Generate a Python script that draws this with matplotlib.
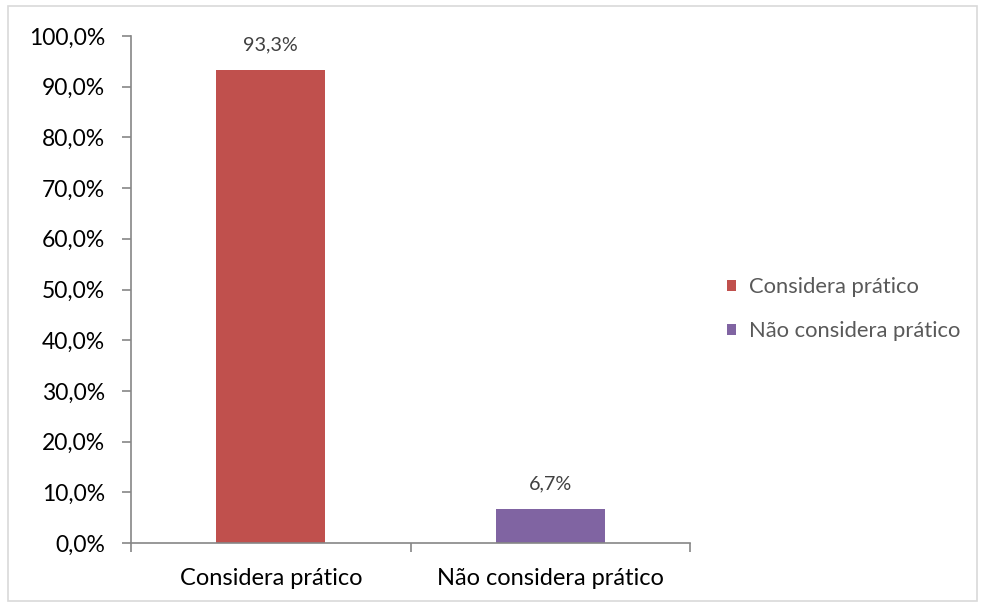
import matplotlib.pyplot as plt
from matplotlib.patches import Rectangle
from matplotlib.ticker import FuncFormatter

categories = ["Considera prático", "Não considera prático"]
values = [93.3, 6.7]
colors = ["#C0504D", "#8064A2"]

plt.rcParams['font.family'] = ['Lato', 'DejaVu Sans']

fig = plt.figure(figsize=(9.85, 6.07), dpi=100)
ax = fig.add_axes([131 / 985, 1 - 543 / 607, 559 / 985, 507 / 607])

x = list(range(len(categories)))
bars = ax.bar(x, values, width=0.39, color=colors, label=categories, zorder=2)

for xi, v in zip(x, values):
    ax.text(xi, v + 3.3, f"{v:.1f}%".replace(".", ","), ha="center", va="bottom",
            fontsize=14.2, color="#404040")

ax.set_xlim(-0.5, 1.5)
ax.set_ylim(0, 100)
ax.set_yticks(range(0, 101, 10))
ax.yaxis.set_major_formatter(FuncFormatter(lambda v, p: f"{v:.1f}%".replace(".", ",")))
ax.set_xticks(x)
ax.set_xticklabels(categories)
ax.set_xticks([-0.5, 0.5, 1.5], minor=True)

for side in ["top", "right"]:
    ax.spines[side].set_visible(False)
for side in ["left", "bottom"]:
    ax.spines[side].set_color("#868686")
    ax.spines[side].set_linewidth(1.2)

ax.tick_params(axis="y", length=6.5, width=1.2, color="#868686", labelsize=16.5,
               labelcolor="black", pad=12)
ax.tick_params(axis="x", which="major", length=0, labelsize=17, labelcolor="black", pad=18)
ax.tick_params(axis="x", which="minor", length=6.5, width=1.2, color="#868686")

leg = fig.legend(handles=bars.patches, labels=categories, loc="center left",
                 bbox_to_anchor=(727 / 985, 1 - 309 / 607), frameon=False,
                 handlelength=0.4, handleheight=0.4, handletextpad=0.6,
                 labelspacing=1.1, fontsize=15.8, borderaxespad=0, borderpad=0)
for t in leg.get_texts():
    t.set_color("#595959")

fig.patches.append(Rectangle((8 / 985, 6 / 607), 969 / 985, 595 / 607,
                             transform=fig.transFigure, fill=False,
                             edgecolor="#D9D9D9", linewidth=1.2))

fig.savefig("out.png", dpi=100)
